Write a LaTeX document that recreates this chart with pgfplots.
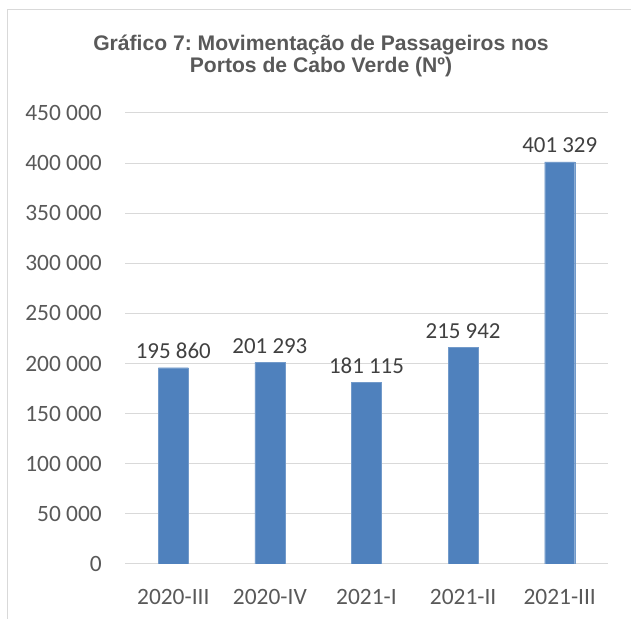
\documentclass[border=0pt]{standalone}
\usepackage{pgfplots}
\pgfplotsset{compat=1.18}
\usepackage{fontspec}
\setmainfont{Carlito}
\newfontfamily\titlefont{Liberation Sans}
\definecolor{barblue}{RGB}{79,129,189}
\definecolor{gridgray}{RGB}{217,217,217}
\definecolor{txtgray}{RGB}{89,89,89}
\definecolor{lblgray}{RGB}{64,64,64}
\frenchspacing
\begin{document}
\begin{tikzpicture}[x=1bp,y=1bp]
\path[use as bounding box] (0,0) rectangle (631,619);
\draw[gridgray, line width=1bp] (7,0) -- (7,609) -- (631,609);
\node[anchor=base, font=\titlefont\bfseries\fontsize{21.2}{22}\selectfont, text=txtgray, inner sep=0pt] at (321,568) {Gráfico 7: Movimentação de Passageiros nos};
\node[anchor=base, font=\titlefont\bfseries\fontsize{21.2}{22}\selectfont, text=txtgray, inner sep=0pt] at (321,546) {Portos de Cabo Verde (Nº)};
\begin{axis}[
  at={(125bp,55bp)}, anchor=south west,
  scale only axis, width=483bp, height=451bp,
  xmin=-0.5, xmax=4.5, ymin=0, ymax=450000,
  ybar, bar width=30bp,
  axis line style={draw=none},
  ymajorgrids, major grid style={gridgray, line width=1bp},
  major tick length=0pt,
  scaled y ticks=false,
  ytick={0,50000,100000,150000,200000,250000,300000,350000,400000,450000},
  yticklabels={0,50 000,100 000,150 000,200 000,250 000,300 000,350 000,400 000,450 000},
  xtick={0,1,2,3,4},
  xticklabels={2020-III,2020-IV,2021-I,2021-II,2021-III},
  tick label style={font=\fontsize{23.5}{27}\selectfont, text=txtgray},
  yticklabel style={anchor=east, inner sep=0pt, xshift=-23bp},
  xticklabel style={anchor=base, inner sep=0pt, yshift=-40bp},
  point meta=explicit symbolic,
  nodes near coords,
  nodes near coords style={font=\fontsize{23}{27}\selectfont, text=lblgray, anchor=base, inner sep=0pt, yshift=9bp},
]
\addplot[fill=barblue, draw=barblue!80!white] coordinates {
  (0,195860) [195 860]
  (1,201293) [201 293]
  (2,181115) [181 115]
  (3,215942) [215 942]
  (4,401329) [401 329]
};
\end{axis}
\end{tikzpicture}
\end{document}
